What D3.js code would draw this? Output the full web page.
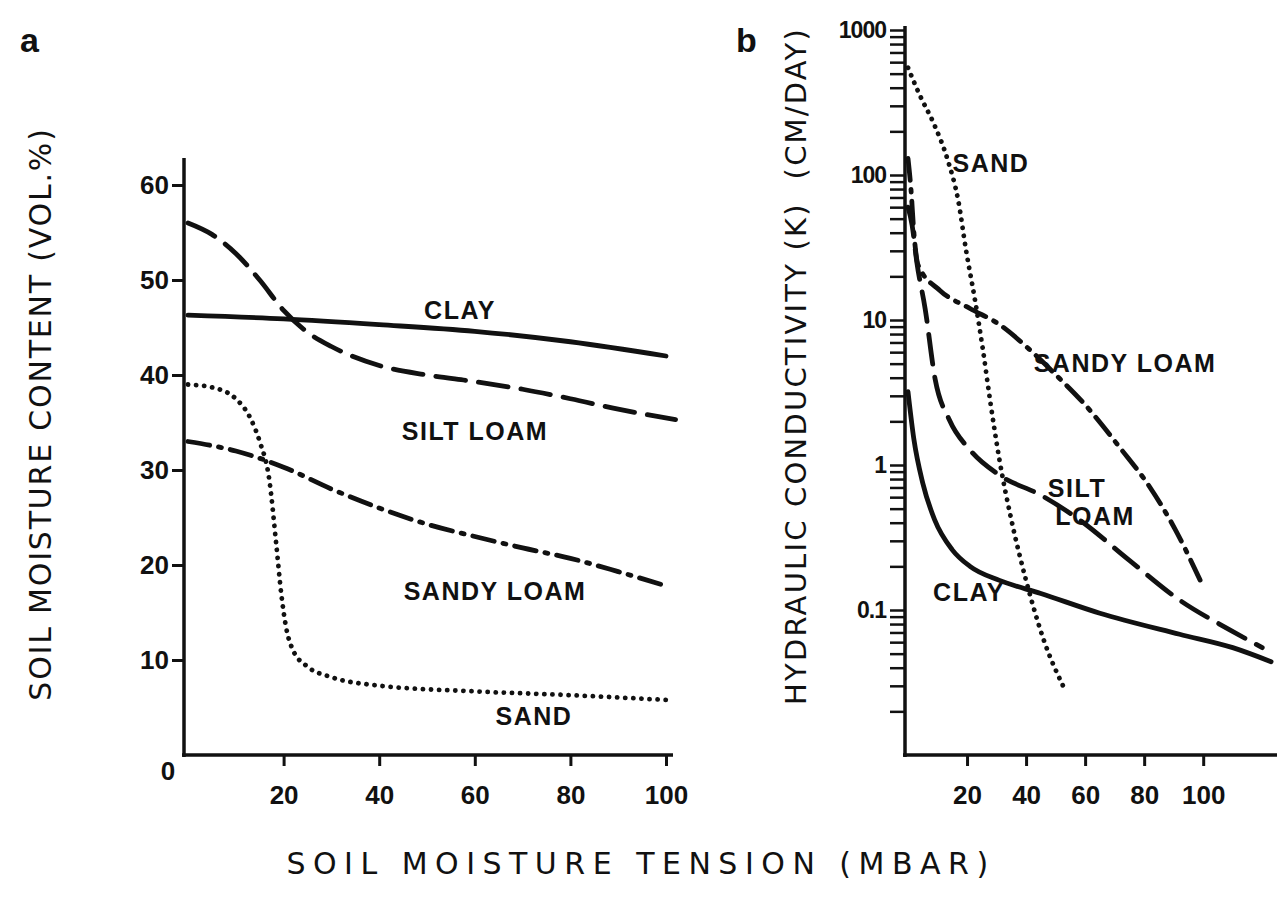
<!DOCTYPE html>
<html>
<head>
<meta charset="utf-8" />
<title>Soil moisture</title>
<script src="https://cdn.jsdelivr.net/npm/d3@7"></script>
<style>
  body { margin: 0; background: #fff; }
  text { font-family: "Liberation Sans", Arial, sans-serif; fill: #111; }
  .tick text { font-weight: bold; }
  .title { font-family: "DejaVu Sans", sans-serif; }
</style>
</head>
<body>
<div id="chart"></div>
<script>
// ---- panel a : moisture content vs tension ----
var aTicksX = [20, 40, 60, 80, 100];
var aTicksY = [10, 20, 30, 40, 50, 60];
var aClay      = [[0,46.3],[20,45.9],[40,45.3],[60,44.6],[80,43.5],[100,42]];
var aSiltLoam  = [[0,56],[5,54.8],[10,52.8],[15,50],[20,46.8],[25,44.5],[30,43],[40,41],[50,40],[60,39.3],[70,38.5],[80,37.5],[90,36.4],[102,35.3]];
var aSandyLoam = [[0,33],[10,32],[20,30.3],[30,28],[40,26],[50,24.3],[60,23],[70,21.8],[80,20.7],[90,19.3],[100,17.8]];
var aSand      = [[0,39],[5,38.7],[10,37.5],[13,35.5],[15,33],[17,29],[18.5,22],[19.5,17],[20.5,13.5],[22,11],[25,9.3],[30,8.2],[40,7.3],[60,6.7],[80,6.3],[100,5.8]];

// ---- panel b : hydraulic conductivity vs tension ----
var bTicksX = [20, 40, 60, 80, 100];
var bDecades = [0.1, 1, 10, 100, 1000];
var bDecadeLabels = ["0.1", "1", "10", "100", "1000"];
var bClay      = [[0,3.2],[2,1.5],[5,0.75],[9,0.42],[15,0.26],[21,0.2],[31,0.16],[45,0.13],[65,0.095],[92,0.068],[110,0.055],[123,0.044]];
var bSiltLoam  = [[0,60],[1.4,45],[3,25],[5.8,12],[9.2,3.9],[14,2.05],[21,1.27],[31,0.85],[45,0.62],[58,0.42],[75,0.22],[92,0.117],[109,0.073],[120,0.055]];
var bSandyLoam = [[0,130],[1,80],[2,40],[3.4,24],[10.8,16],[21,12],[31,9.3],[41,6.3],[50,4.2],[60,2.6],[72,1.3],[82,0.7],[90.5,0.36],[99,0.16]];
var bSand      = [[0,550],[4,355],[9,220],[13.5,126],[17,67],[19.7,30],[22.7,13.7],[25.4,6.2],[27.8,2.8],[31,1.08],[35,0.42],[40,0.16],[46,0.062],[52.5,0.03]];

var styles = {
  clay:      { dash: null },
  siltLoam:  { dash: "30,13" },
  sandyLoam: { dash: "22,9,3,9" },
  sand:      { dash: "0.1,8" }
};

var W = 1279, H = 899;
var svg = d3.select("#chart").append("svg").attr("width", W).attr("height", H);

function drawSeries(g, data, line, st) {
  g.append("path").datum(data).attr("d", line)
    .attr("fill", "none").attr("stroke", "#111").attr("stroke-width", 4.8)
    .attr("stroke-linecap", "round")
    .attr("stroke-dasharray", st.dash);
}
function lab(g, x, y, t) {
  g.append("text").attr("x", x).attr("y", y).attr("text-anchor", "middle")
    .style("font-size", "25px").style("font-weight", "bold").style("letter-spacing", "1.5px").text(t);
}
function styleAxis(g, size) {
  g.select(".domain").remove();
  g.selectAll(".tick line").attr("stroke", "#111").attr("stroke-width", 3);
  g.selectAll(".tick text").style("font-size", size);
}

// ======== panel a ========
var xa = d3.scaleLinear().domain([0, 100]).range([188, 666]);
var ya = d3.scaleLinear().domain([0, 60]).range([755, 185]);

var ga = svg.append("g");
ga.append("line").attr("x1", 184).attr("x2", 184).attr("y1", 757).attr("y2", 158)
  .attr("stroke", "#111").attr("stroke-width", 3.5);
ga.append("line").attr("x1", 182).attr("x2", 673).attr("y1", 755).attr("y2", 755)
  .attr("stroke", "#111").attr("stroke-width", 3.5);

var axA = ga.append("g").attr("transform", "translate(0,755)")
  .call(d3.axisBottom(xa).tickValues(aTicksX).tickSize(11).tickSizeOuter(0).tickPadding(20));
var ayA = ga.append("g").attr("transform", "translate(184,0)")
  .call(d3.axisLeft(ya).tickValues(aTicksY).tickSize(12).tickSizeOuter(0).tickPadding(3));
styleAxis(axA, "26px");
styleAxis(ayA, "26px");
ga.append("text").attr("x", 168).attr("y", 780).attr("text-anchor", "middle")
  .style("font-size", "26px").style("font-weight", "bold").text("0");

var lineA = d3.line().x(function (d) { return xa(d[0]); }).y(function (d) { return ya(d[1]); })
  .curve(d3.curveMonotoneX);
drawSeries(ga, aClay, lineA, styles.clay);
drawSeries(ga, aSiltLoam, lineA, styles.siltLoam);
drawSeries(ga, aSandyLoam, lineA, styles.sandyLoam);
drawSeries(ga, aSand, lineA, styles.sand);

lab(ga, 460, 319, "CLAY");
lab(ga, 475, 440, "SILT LOAM");
lab(ga, 495, 600, "SANDY LOAM");
lab(ga, 534, 725, "SAND");

ga.append("text").attr("class", "title").attr("transform", "translate(51,414) rotate(-90)")
  .attr("text-anchor", "middle").style("font-size", "30px").style("letter-spacing", "1.8px")
  .text("SOIL MOISTURE CONTENT (VOL.%)");
svg.append("text").attr("x", 20).attr("y", 52).style("font-size", "34px")
  .style("font-weight", "bold").text("a");

// ======== panel b ========
var xb = d3.scaleLinear().domain([0, 125]).range([908, 1277]);
var yb = d3.scaleLog().domain([0.01, 1000]).range([755, 30]);

var gb = svg.append("g");
gb.append("line").attr("x1", 905).attr("x2", 905).attr("y1", 757).attr("y2", 26)
  .attr("stroke", "#111").attr("stroke-width", 3.5);
gb.append("line").attr("x1", 903).attr("x2", 1277).attr("y1", 755).attr("y2", 755)
  .attr("stroke", "#111").attr("stroke-width", 3.5);

var axB = gb.append("g").attr("transform", "translate(0,755)")
  .call(d3.axisBottom(xb).tickValues(bTicksX).tickSize(11).tickSizeOuter(0).tickPadding(20));
styleAxis(axB, "26px");

// minor log ticks 2..9 of each decade, labelled ticks at decades
var minor = yb.ticks().filter(function (v) { return v > 0.01 && v <= 1000; });
var ayB = gb.append("g").attr("transform", "translate(905,0)")
  .call(d3.axisLeft(yb).tickValues(minor).tickSize(15).tickSizeOuter(0)
    .tickFormat(function (v) {
      var i = bDecades.indexOf(v);
      return i >= 0 ? bDecadeLabels[i] : "";
    }).tickPadding(4));
styleAxis(ayB, "23px");
ayB.selectAll(".tick line").attr("stroke-width", 2.5);
ayB.selectAll(".tick text").style("letter-spacing", "-1px");

var lineB = d3.line().x(function (d) { return xb(d[0]); }).y(function (d) { return yb(d[1]); })
  .curve(d3.curveMonotoneX);
drawSeries(gb, bClay, lineB, styles.clay);
drawSeries(gb, bSiltLoam, lineB, styles.siltLoam);
drawSeries(gb, bSandyLoam, lineB, styles.sandyLoam);
drawSeries(gb, bSand, lineB, styles.sand);

lab(gb, 991, 172, "SAND");
lab(gb, 1125, 372, "SANDY LOAM");
lab(gb, 1077, 497, "SILT");
lab(gb, 1095, 525, "LOAM");
lab(gb, 969, 601, "CLAY");

gb.append("text").attr("class", "title").attr("transform", "translate(806,366) rotate(-90)")
  .attr("text-anchor", "middle").style("font-size", "29px").style("letter-spacing", "2.2px")
  .style("white-space", "pre")
  .text("HYDRAULIC CONDUCTIVITY (K)  (CM/DAY)");
svg.append("text").attr("x", 736).attr("y", 52).style("font-size", "34px")
  .style("font-weight", "bold").text("b");

// shared x title
svg.append("text").attr("class", "title").attr("x", 641).attr("y", 874).attr("text-anchor", "middle")
  .style("font-size", "30px").style("letter-spacing", "7.5px")
  .text("SOIL MOISTURE TENSION (MBAR)");
</script>
</body>
</html>
